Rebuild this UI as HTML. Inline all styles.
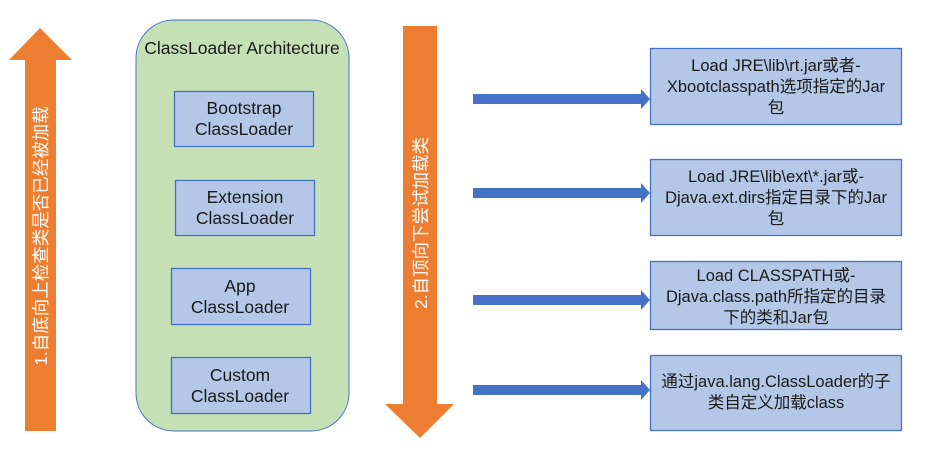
<!DOCTYPE html>
<html><head><meta charset="utf-8"><style>
body{margin:0;background:#fff;}
svg text{font-family:"Liberation Sans","Noto Sans CJK SC",sans-serif;font-size:16.5px;fill:#1a1a1a;}
svg text.big{font-size:17.5px;}
</style></head><body>
<svg width="927" height="453" viewBox="0 0 927 453" xmlns="http://www.w3.org/2000/svg">
<polygon points="40,28 72,60 56,60 56,431 25,431 25,60 9,60" fill="#ED7D31"/>
<text class="big" transform="translate(47,236) rotate(-90)" text-anchor="middle" style="fill:#fff">1.自底向上检查类是否已经被加载</text>
<rect x="136" y="20" width="213" height="411" rx="38" fill="#C5E0B4" stroke="#4472C4" stroke-width="1"/>
<text class="big" x="242" y="54" text-anchor="middle">ClassLoader Architecture</text>
<g fill="#B4C7E7" stroke="#4472C4" stroke-width="1.3">
<rect x="174.5" y="91.5" width="139" height="55"/>
<rect x="175.5" y="180.5" width="139" height="55"/>
<rect x="171.5" y="268.5" width="139" height="56"/>
<rect x="171.5" y="357.5" width="139" height="56"/>
</g>
<g text-anchor="middle">
<text class="big" x="244" y="114">Bootstrap</text><text class="big" x="244" y="135">ClassLoader</text>
<text class="big" x="245" y="203">Extension</text><text class="big" x="245" y="224">ClassLoader</text>
<text class="big" x="240" y="292">App</text><text class="big" x="240" y="313">ClassLoader</text>
<text class="big" x="240" y="381">Custom</text><text class="big" x="240" y="402">ClassLoader</text>
</g>
<polygon points="403,26 437,26 437,404 454,404 420,438 385,404 403,404" fill="#ED7D31"/>
<text class="big" transform="translate(427,223) rotate(-90)" text-anchor="middle" style="fill:#fff">2.自顶向下尝试加载类</text>
<g fill="#4472C4">
<polygon points="473,94 641,94 641,89 650,99 641,109 641,104 473,104"/>
<polygon points="473,188 641,188 641,183 650,193 641,203 641,198 473,198"/>
<polygon points="473,295 641,295 641,290 650,300 641,310 641,305 473,305"/>
<polygon points="473,385 641,385 641,380 650,390 641,400 641,395 473,395"/>
</g>
<g fill="#B4C7E7" stroke="#4472C4" stroke-width="1.3">
<rect x="650.5" y="48.5" width="251" height="76"/>
<rect x="650.5" y="159.5" width="251" height="76"/>
<rect x="650.5" y="261.5" width="251" height="68"/>
<rect x="650.5" y="355.5" width="251" height="75"/>
</g>
<g text-anchor="middle">
<text x="776" y="71">Load JRE\lib\rt.jar或者-</text>
<text x="776" y="92">Xbootclasspath选项指定的Jar</text>
<text x="776" y="113">包</text>
<text x="776" y="182">Load JRE\lib\ext\*.jar或-</text>
<text x="776" y="203">Djava.ext.dirs指定目录下的Jar</text>
<text x="776" y="224">包</text>
<text x="776" y="281">Load CLASSPATH或-</text>
<text x="776" y="302">Djava.class.path所指定的目录</text>
<text x="776" y="323">下的类和Jar包</text>
<text x="776" y="387">通过java.lang.ClassLoader的子</text>
<text x="776" y="408">类自定义加载class</text>
</g>
</svg>
</body></html>
